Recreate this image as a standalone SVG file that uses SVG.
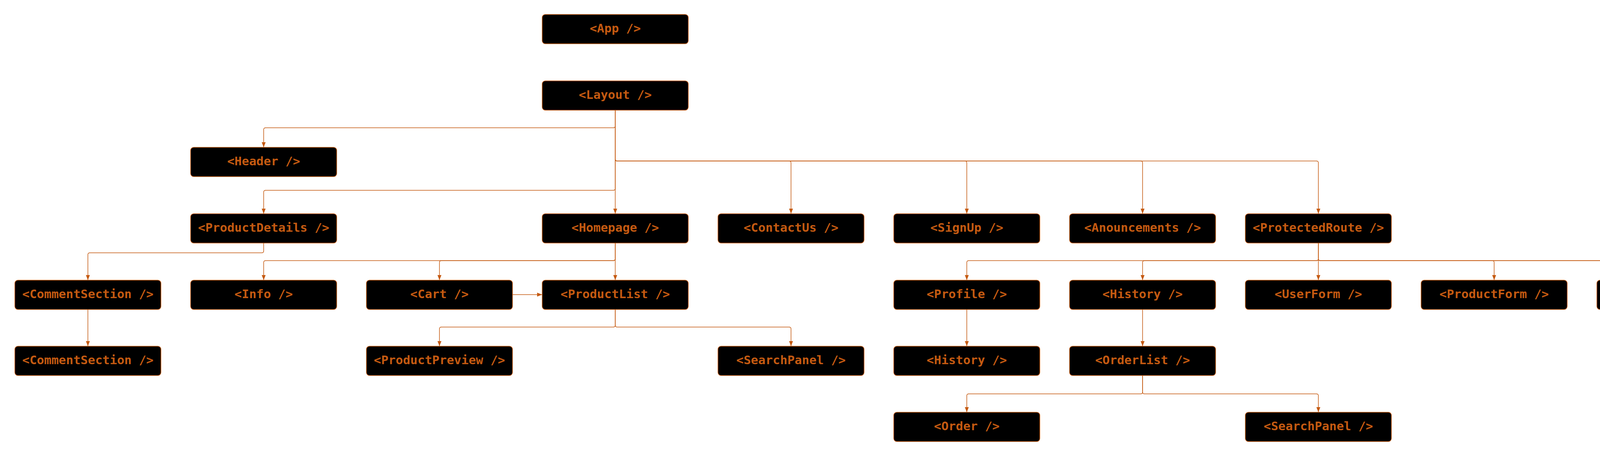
<svg xmlns="http://www.w3.org/2000/svg" width="4950" height="1167" viewBox="0 0 4950 1167">
<defs>
<style>
.n rect{fill:#000;stroke:#c55a11;stroke-width:1.5}
.n text{fill:#c55a11;font-family:"DejaVu Sans Mono","Liberation Mono",monospace;font-weight:bold;font-size:31px;text-anchor:middle}
.e path{fill:none;stroke:#c55a11;stroke-width:1.5}
</style>
<marker id="ah" markerUnits="userSpaceOnUse" markerWidth="14" markerHeight="10" refX="13" refY="5" orient="auto">
<path d="M0,0 L13,5 L0,10 Z" fill="#c55a11"/>
</marker>
</defs>
<rect width="4950" height="1167" fill="#fff"/>
<g class="e">
<path d="M1575,282 V322 Q1575,327 1570,327 H680 Q675,327 675,332 V377" marker-end="url(#ah)"/>
<path d="M1575,282 V482 Q1575,487 1570,487 H680 Q675,487 675,492 V547" marker-end="url(#ah)"/>
<path d="M1575,282 V547" marker-end="url(#ah)"/>
<path d="M1575,282 V407 Q1575,412 1580,412 H2020 Q2025,412 2025,417 V547" marker-end="url(#ah)"/>
<path d="M1575,282 V407 Q1575,412 1580,412 H2470 Q2475,412 2475,417 V547" marker-end="url(#ah)"/>
<path d="M1575,282 V407 Q1575,412 1580,412 H2920 Q2925,412 2925,417 V547" marker-end="url(#ah)"/>
<path d="M1575,282 V407 Q1575,412 1580,412 H3370 Q3375,412 3375,417 V547" marker-end="url(#ah)"/>
<path d="M675,622 V642 Q675,647 670,647 H230 Q225,647 225,652 V717" marker-end="url(#ah)"/>
<path d="M1575,622 V662 Q1575,667 1570,667 H680 Q675,667 675,672 V717" marker-end="url(#ah)"/>
<path d="M1575,622 V662 Q1575,667 1570,667 H1130 Q1125,667 1125,672 V717" marker-end="url(#ah)"/>
<path d="M1575,622 V717" marker-end="url(#ah)"/>
<path d="M1312,754 H1388" marker-end="url(#ah)"/>
<path d="M225,792 V886" marker-end="url(#ah)"/>
<path d="M1575,792 V832 Q1575,837 1570,837 H1130 Q1125,837 1125,842 V886" marker-end="url(#ah)"/>
<path d="M1575,792 V832 Q1575,837 1580,837 H2020 Q2025,837 2025,842 V886" marker-end="url(#ah)"/>
<path d="M3375,622 V662 Q3375,667 3370,667 H2480 Q2475,667 2475,672 V717" marker-end="url(#ah)"/>
<path d="M3375,622 V662 Q3375,667 3370,667 H2930 Q2925,667 2925,672 V717" marker-end="url(#ah)"/>
<path d="M3375,622 V717" marker-end="url(#ah)"/>
<path d="M3375,622 V662 Q3375,667 3380,667 H3820 Q3825,667 3825,672 V717" marker-end="url(#ah)"/>
<path d="M3375,622 V662 Q3375,667 3380,667 H4270 Q4275,667 4275,672 V717" marker-end="url(#ah)"/>
<path d="M3375,622 V662 Q3375,667 3380,667 H4720 Q4725,667 4725,672 V717" marker-end="url(#ah)"/>
<path d="M2475,792 V886" marker-end="url(#ah)"/>
<path d="M2925,792 V886" marker-end="url(#ah)"/>
<path d="M2925,961 V1003 Q2925,1008 2920,1008 H2480 Q2475,1008 2475,1013 V1055" marker-end="url(#ah)"/>
<path d="M2925,961 V1003 Q2925,1008 2930,1008 H3370 Q3375,1008 3375,1013 V1055" marker-end="url(#ah)"/>
</g>
<g id="app" class="n"><rect x="1388" y="37" width="374" height="75" rx="8"/><text x="1575" y="83">&lt;App /&gt;</text></g>
<g id="layout" class="n"><rect x="1388" y="207" width="374" height="75" rx="8"/><text x="1575" y="253">&lt;Layout /&gt;</text></g>
<g id="header" class="n"><rect x="488" y="377" width="374" height="75" rx="8"/><text x="675" y="423">&lt;Header /&gt;</text></g>
<g id="productdetails" class="n"><rect x="488" y="547" width="374" height="75" rx="8"/><text x="675" y="593">&lt;ProductDetails /&gt;</text></g>
<g id="homepage" class="n"><rect x="1388" y="547" width="374" height="75" rx="8"/><text x="1575" y="593">&lt;Homepage /&gt;</text></g>
<g id="contactus" class="n"><rect x="1838" y="547" width="374" height="75" rx="8"/><text x="2025" y="593">&lt;ContactUs /&gt;</text></g>
<g id="signup" class="n"><rect x="2288" y="547" width="374" height="75" rx="8"/><text x="2475" y="593">&lt;SignUp /&gt;</text></g>
<g id="anouncements" class="n"><rect x="2738" y="547" width="374" height="75" rx="8"/><text x="2925" y="593">&lt;Anouncements /&gt;</text></g>
<g id="protectedroute" class="n"><rect x="3188" y="547" width="374" height="75" rx="8"/><text x="3375" y="593">&lt;ProtectedRoute /&gt;</text></g>
<g id="commentsection1" class="n"><rect x="38" y="717" width="374" height="75" rx="8"/><text x="225" y="763">&lt;CommentSection /&gt;</text></g>
<g id="info" class="n"><rect x="488" y="717" width="374" height="75" rx="8"/><text x="675" y="763">&lt;Info /&gt;</text></g>
<g id="cart" class="n"><rect x="938" y="717" width="374" height="75" rx="8"/><text x="1125" y="763">&lt;Cart /&gt;</text></g>
<g id="productlist" class="n"><rect x="1388" y="717" width="374" height="75" rx="8"/><text x="1575" y="763">&lt;ProductList /&gt;</text></g>
<g id="profile" class="n"><rect x="2288" y="717" width="374" height="75" rx="8"/><text x="2475" y="763">&lt;Profile /&gt;</text></g>
<g id="history1" class="n"><rect x="2738" y="717" width="374" height="75" rx="8"/><text x="2925" y="763">&lt;History /&gt;</text></g>
<g id="userform" class="n"><rect x="3188" y="717" width="374" height="75" rx="8"/><text x="3375" y="763">&lt;UserForm /&gt;</text></g>
<g id="productform" class="n"><rect x="3638" y="717" width="374" height="75" rx="8"/><text x="3825" y="763">&lt;ProductForm /&gt;</text></g>
<g id="postanouncement" class="n"><rect x="4088" y="717" width="374" height="75" rx="8"/><text x="4275" y="763">&lt;PostAnouncement /&gt;</text></g>
<g id="analytics" class="n"><rect x="4538" y="717" width="374" height="75" rx="8"/><text x="4725" y="763">&lt;Analytics /&gt;</text></g>
<g id="commentsection2" class="n"><rect x="38" y="886" width="374" height="75" rx="8"/><text x="225" y="932">&lt;CommentSection /&gt;</text></g>
<g id="productpreview" class="n"><rect x="938" y="886" width="374" height="75" rx="8"/><text x="1125" y="932">&lt;ProductPreview /&gt;</text></g>
<g id="searchpanel1" class="n"><rect x="1838" y="886" width="374" height="75" rx="8"/><text x="2025" y="932">&lt;SearchPanel /&gt;</text></g>
<g id="history2" class="n"><rect x="2288" y="886" width="374" height="75" rx="8"/><text x="2475" y="932">&lt;History /&gt;</text></g>
<g id="orderlist" class="n"><rect x="2738" y="886" width="374" height="75" rx="8"/><text x="2925" y="932">&lt;OrderList /&gt;</text></g>
<g id="order" class="n"><rect x="2288" y="1055" width="374" height="75" rx="8"/><text x="2475" y="1101">&lt;Order /&gt;</text></g>
<g id="searchpanel2" class="n"><rect x="3188" y="1055" width="374" height="75" rx="8"/><text x="3375" y="1101">&lt;SearchPanel /&gt;</text></g>
</svg>
